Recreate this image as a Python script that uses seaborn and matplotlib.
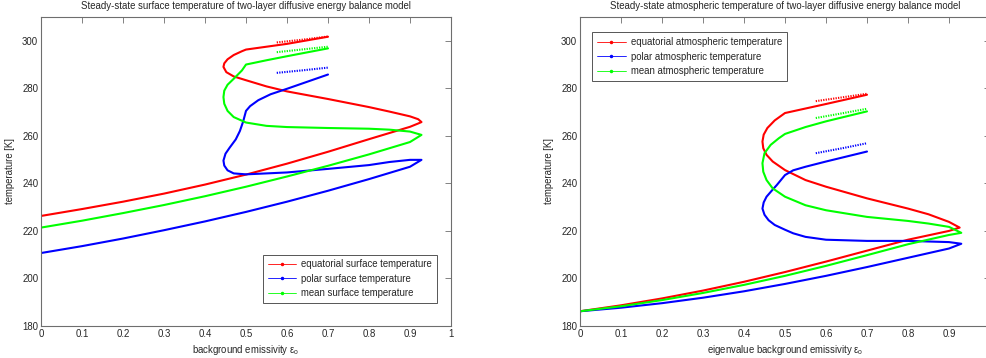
import numpy as np
import pandas as pd
import matplotlib
matplotlib.use("Agg")
import matplotlib.pyplot as plt
from matplotlib.lines import Line2D
import seaborn as sns

# ---------------- data: surface temperature (left panel) ----------------
surf_eq_x = [0.0, 0.1, 0.2, 0.3, 0.4, 0.5, 0.6, 0.7, 0.8, 0.9, 0.92, 0.928,
             0.92, 0.9, 0.85, 0.8, 0.7, 0.6, 0.55, 0.5, 0.47, 0.452, 0.445, 0.447, 0.455,
             0.47, 0.49, 0.5, 0.55, 0.6, 0.7]
surf_eq_T = [226.3, 229.2, 232.3, 235.7, 239.5, 243.7, 248.3, 253.3, 258.6, 263.8, 265.2, 265.8,
             267.0, 268.2, 270.2, 272.1, 275.5, 278.7, 280.8, 283.4, 285.0, 286.8, 289.0,
             290.5, 292.2, 294.0, 295.6, 296.3, 297.5, 298.7, 301.7]
surf_eq_dot_x = [0.575, 0.64, 0.7]
surf_eq_dot_T = [299.3, 300.5, 301.8]

surf_po_x = [0.0, 0.1, 0.2, 0.3, 0.4, 0.5, 0.6, 0.7, 0.8, 0.9, 0.928,
             0.9, 0.85, 0.8, 0.7, 0.6, 0.5, 0.47, 0.455, 0.447, 0.445, 0.45, 0.46, 0.475,
             0.485, 0.493, 0.5, 0.51, 0.53, 0.56, 0.6, 0.7]
surf_po_T = [210.7, 213.6, 216.8, 220.3, 224.0, 228.0, 232.3, 236.9, 241.8, 247.0, 249.9,
             249.9, 249.0, 247.7, 246.1, 244.6, 243.8, 244.2, 245.5, 247.5, 249.6, 252.5,
             255.0, 258.5, 262.0, 266.0, 270.5, 272.5, 275.0, 277.5, 279.8, 285.8]
surf_po_dot_x = [0.575, 0.64, 0.7]
surf_po_dot_T = [286.5, 287.6, 288.7]

surf_mn_x = [0.0, 0.1, 0.2, 0.3, 0.4, 0.5, 0.6, 0.7, 0.8, 0.9, 0.928,
             0.9, 0.85, 0.8, 0.7, 0.6, 0.55, 0.5, 0.47, 0.455, 0.447, 0.445, 0.447, 0.455,
             0.47, 0.49, 0.5, 0.55, 0.6, 0.7]
surf_mn_T = [221.4, 224.3, 227.5, 230.9, 234.6, 238.6, 242.9, 247.4, 252.2, 257.4, 260.4,
             261.8, 262.6, 263.0, 263.3, 263.7, 264.2, 265.6, 267.9, 270.5, 273.5, 276.3,
             279.0, 281.5, 284.0, 287.5, 290.0, 291.8, 293.5, 296.8]
surf_mn_dot_x = [0.575, 0.64, 0.7]
surf_mn_dot_T = [295.2, 296.4, 297.5]

# ---------------- data: atmospheric temperature (right panel) ----------------
atm_eq_x = [0.0, 0.1, 0.2, 0.3, 0.4, 0.5, 0.6, 0.7, 0.8, 0.9, 0.926,
            0.9, 0.85, 0.8, 0.7, 0.6, 0.55, 0.5, 0.47, 0.455, 0.447, 0.445, 0.448, 0.457,
            0.475, 0.5, 0.55, 0.6, 0.7]
atm_eq_T = [186.2, 188.7, 191.6, 194.9, 198.6, 202.7, 207.1, 211.7, 216.3, 220.0, 221.4,
            223.8, 227.0, 229.4, 233.7, 238.6, 241.4, 245.6, 249.2, 252.0, 254.8, 257.6,
            260.5, 263.3, 266.5, 269.6, 271.5, 273.4, 277.3]
atm_eq_dot_x = [0.575, 0.64, 0.7]
atm_eq_dot_T = [274.6, 276.2, 277.7]

atm_po_x = [0.0, 0.1, 0.2, 0.3, 0.4, 0.5, 0.6, 0.7, 0.8, 0.9, 0.93,
            0.9, 0.8, 0.7, 0.6, 0.55, 0.52, 0.5, 0.475, 0.46, 0.45, 0.445, 0.448, 0.455,
            0.468, 0.48, 0.5, 0.52, 0.55, 0.6, 0.7]
atm_po_T = [186.2, 187.7, 189.6, 191.9, 194.6, 197.7, 201.1, 204.8, 208.7, 212.6, 214.6,
            215.3, 215.8, 215.8, 216.3, 217.5, 219.0, 220.5, 222.5, 224.5, 226.8, 229.4,
            232.0, 234.4, 237.0, 239.3, 243.5, 245.5, 247.0, 249.2, 253.4]
atm_po_dot_x = [0.575, 0.64, 0.7]
atm_po_dot_T = [252.7, 254.8, 256.9]

atm_mn_x = [0.0, 0.1, 0.2, 0.3, 0.4, 0.5, 0.6, 0.7, 0.8, 0.9, 0.93,
            0.9, 0.85, 0.8, 0.7, 0.6, 0.55, 0.5, 0.47, 0.455, 0.447, 0.445, 0.45, 0.465,
            0.485, 0.5, 0.55, 0.6, 0.7]
atm_mn_T = [186.2, 188.3, 190.9, 193.9, 197.3, 201.1, 205.3, 209.8, 214.4, 218.3, 219.2,
            221.7, 223.1, 224.2, 225.9, 228.7, 230.8, 234.4, 237.9, 241.4, 244.9, 248.5,
            252.7, 256.2, 259.0, 260.8, 263.7, 266.1, 270.3]
atm_mn_dot_x = [0.575, 0.64, 0.7]
atm_mn_dot_T = [267.5, 269.5, 271.4]

x_ticks = [0, 0.1, 0.2, 0.3, 0.4, 0.5, 0.6, 0.7, 0.8, 0.9, 1]
x_tick_labels = ["0", "0.1", "0.2", "0.3", "0.4", "0.5", "0.6", "0.7", "0.8", "0.9", "1"]
y_ticks = [180, 200, 220, 240, 260, 280, 300]

RED, BLUE, GREEN = "#ff0000", "#0000ff", "#00ff00"
FS = 6.9

sns.set_style("white")
plt.rcParams["font.family"] = ["Liberation Sans", "DejaVu Sans"]
plt.rcParams["mathtext.default"] = "regular"

fig = plt.figure(figsize=(9.87, 3.58), dpi=100)
ax_l = fig.add_axes([41 / 987, 1 - 326 / 358, 410 / 987, 309 / 358])
ax_r = fig.add_axes([580 / 987, 1 - 326 / 358, 410 / 987, 309 / 358])


def draw(ax, x, T, color, dotted=False):
    df = pd.DataFrame({"x": x, "T": T})
    if dotted:
        sns.lineplot(data=df, x="x", y="T", ax=ax, sort=False, estimator=None,
                     color=color, linewidth=1.5, linestyle=(0, (0.6, 0.6)))
    else:
        sns.lineplot(data=df, x="x", y="T", ax=ax, sort=False, estimator=None,
                     color=color, linewidth=1.5)


panels = [
    (ax_l,
     [(surf_eq_x, surf_eq_T, surf_eq_dot_x, surf_eq_dot_T, RED),
      (surf_po_x, surf_po_T, surf_po_dot_x, surf_po_dot_T, BLUE),
      (surf_mn_x, surf_mn_T, surf_mn_dot_x, surf_mn_dot_T, GREEN)],
     "Steady-state surface temperature of two-layer diffusive energy balance model",
     "background emissivity ε$_o$",
     ["equatorial surface temperature", "polar surface temperature",
      "mean surface temperature"],
     "lower right", (0.965, 0.075), x_tick_labels),
    (ax_r,
     [(atm_eq_x, atm_eq_T, atm_eq_dot_x, atm_eq_dot_T, RED),
      (atm_po_x, atm_po_T, atm_po_dot_x, atm_po_dot_T, BLUE),
      (atm_mn_x, atm_mn_T, atm_mn_dot_x, atm_mn_dot_T, GREEN)],
     "Steady-state atmospheric temperature of two-layer diffusive energy balance model",
     "eigenvalue background emissivity ε$_o$",
     ["equatorial atmospheric temperature", "polar atmospheric temperature",
      "mean atmospheric temperature"],
     "upper left", (0.03, 0.95), x_tick_labels[:-1] + [""]),
]

for ax, series, title, xlabel, labels, loc, anchor, xt_labels in panels:
    for x, T, dx, dT, c in series:
        draw(ax, x, T, c)
        draw(ax, dx, dT, c, dotted=True)
    ax.set_xlim(0, 1)
    ax.set_ylim(180, 310)
    ax.set_xticks(x_ticks)
    ax.set_xticklabels(xt_labels)
    ax.set_yticks(y_ticks)
    ax.tick_params(direction="in", length=4, width=0.6, color="#6e6e6e",
                   labelsize=FS, top=True, right=True, pad=2)
    for s in ax.spines.values():
        s.set_color("#6e6e6e")
        s.set_linewidth(0.8)
    ax.set_title(title, fontsize=FS, pad=6)
    ax.set_xlabel(xlabel, fontsize=FS, labelpad=3)
    ax.set_ylabel("temperature [K]", fontsize=FS, labelpad=5)
    handles = [Line2D([0], [0], color=c, lw=0.6, marker=".", markersize=3)
               for c in (RED, BLUE, GREEN)]
    leg = ax.legend(handles, labels, loc=loc, bbox_to_anchor=anchor, fontsize=FS,
                    frameon=True, fancybox=False, framealpha=1, edgecolor="#555555",
                    handlelength=3.0, handletextpad=0.5, borderpad=0.5,
                    labelspacing=0.45, borderaxespad=0)
    leg.get_frame().set_linewidth(0.7)

fig.savefig("out.png", dpi=100, facecolor="white")
